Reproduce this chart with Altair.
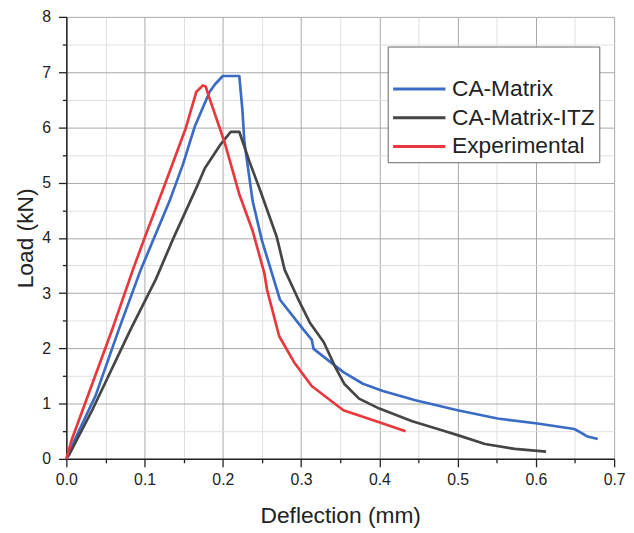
import altair as alt
import pandas as pd

# CA-Matrix
blue_x = [0.003, 0.010, 0.0375, 0.067, 0.095, 0.132, 0.149, 0.164, 0.183, 0.190, 0.200, 0.221,
          0.225, 0.2275, 0.238, 0.250, 0.273, 0.303, 0.3135, 0.316, 0.336, 0.354, 0.379, 0.4045,
          0.446, 0.500, 0.551, 0.602, 0.649, 0.657, 0.665, 0.679]
blue_y = [0.05, 0.32, 1.15, 2.34, 3.42, 4.67, 5.33, 6.01, 6.64, 6.78, 6.93, 6.93,
          6.31, 5.74, 4.67, 3.95, 2.88, 2.34, 2.16, 1.99, 1.77, 1.57, 1.36, 1.23,
          1.06, 0.88, 0.73, 0.64, 0.54, 0.48, 0.41, 0.36]

# CA-Matrix-ITZ
gray_x = [0.0, 0.006, 0.033, 0.082, 0.114, 0.137, 0.166, 0.177, 0.197, 0.210, 0.221, 0.234,
          0.248, 0.269, 0.279, 0.298, 0.311, 0.329, 0.343, 0.355, 0.374, 0.400, 0.442, 0.484,
          0.500, 0.535, 0.573, 0.613]
gray_y = [0.0, 0.14, 0.88, 2.34, 3.24, 4.00, 4.90, 5.26, 5.69, 5.92, 5.92, 5.38,
          4.85, 4.01, 3.42, 2.84, 2.47, 2.11, 1.68, 1.36, 1.09, 0.91, 0.68, 0.50,
          0.43, 0.27, 0.18, 0.13]

# Experimental
red_x = [0.0, 0.007, 0.0586, 0.085, 0.100, 0.126, 0.152, 0.166, 0.1745, 0.178, 0.1845, 0.202,
         0.221, 0.238, 0.253, 0.2565, 0.272, 0.291, 0.3135, 0.354, 0.396, 0.4335]
red_y = [0.0, 0.35, 2.34, 3.42, 4.00, 4.97, 5.96, 6.64, 6.76, 6.74, 6.46, 5.74,
         4.79, 4.13, 3.36, 3.06, 2.22, 1.75, 1.32, 0.88, 0.68, 0.50]

series_names = ["CA-Matrix", "CA-Matrix-ITZ", "Experimental"]
series_colors = ["#3a6cc5", "#454545", "#e8383d"]

x_ticks = [round(i * 0.05, 2) for i in range(15)]
y_ticks = [i * 0.5 for i in range(17)]

rows = []
for name, xs, ys in zip(series_names, [blue_x, gray_x, red_x], [blue_y, gray_y, red_y]):
    for i, (a, b) in enumerate(zip(xs, ys)):
        rows.append({"series": name, "x": a, "y": b, "i": i})
df = pd.DataFrame(rows)

minor_x = "round(datum.value*100) % 10 != 0"
minor_y = "round(datum.value*10) % 10 != 0"

chart = alt.Chart(df).mark_line(strokeWidth=2.7, strokeJoin="round").encode(
    x=alt.X("x:Q", title="Deflection (mm)",
            scale=alt.Scale(domain=[0, 0.7], nice=False, zero=False),
            axis=alt.Axis(values=x_ticks, labelOverlap=False, labelFlush=False,
                          labelExpr="round(datum.value*100) % 10 == 0 ? format(datum.value, '.1f') : ''",
                          tickSize={"condition": {"test": minor_x, "value": 4}, "value": 8},
                          gridColor={"condition": {"test": minor_x, "value": "#e0e0e0"}, "value": "#a8a8a8"},
                          labelPadding=5, titlePadding=17)),
    y=alt.Y("y:Q", title="Load (kN)",
            scale=alt.Scale(domain=[0, 8], nice=False),
            axis=alt.Axis(values=y_ticks, labelOverlap=False, labelFlush=False,
                          labelExpr="round(datum.value*10) % 10 == 0 ? format(datum.value, 'd') : ''",
                          tickSize={"condition": {"test": minor_y, "value": 4}, "value": 8},
                          gridColor={"condition": {"test": minor_y, "value": "#e0e0e0"}, "value": "#a8a8a8"},
                          labelPadding=8, titlePadding=4)),
    color=alt.Color("series:N", sort=series_names,
                    scale=alt.Scale(domain=series_names, range=series_colors),
                    legend=alt.Legend(title=" ", orient="none", legendX=325, legendY=30,
                                      symbolType="M-1,0H3.6", symbolSize=529, symbolStrokeWidth=3,
                                      labelFontSize=23, titleFontSize=18, titlePadding=8,
                                      rowPadding=4, padding=4, labelOffset=35,
                                      strokeColor="#666666", fillColor="white",
                                      labelColor="#222222", labelFont="Liberation Sans")),
    order="i:Q",
).properties(
    width=554, height=447,
    autosize=alt.AutoSizeParams(type="none"),
    padding={"left": 59, "top": 6, "right": 12, "bottom": 72},
).configure_view(stroke=None).configure_axis(
    labelFont="Liberation Sans", titleFont="Liberation Sans",
    labelFontSize=16, titleFontSize=23, titleFontWeight="normal",
    labelColor="#222222", titleColor="#222222",
    domainColor="#222222", domainWidth=1.5, tickColor="#222222", tickWidth=1.3,
    gridWidth=1,
)

chart.save("out.html", embed_options={"renderer": "svg", "actions": False})
